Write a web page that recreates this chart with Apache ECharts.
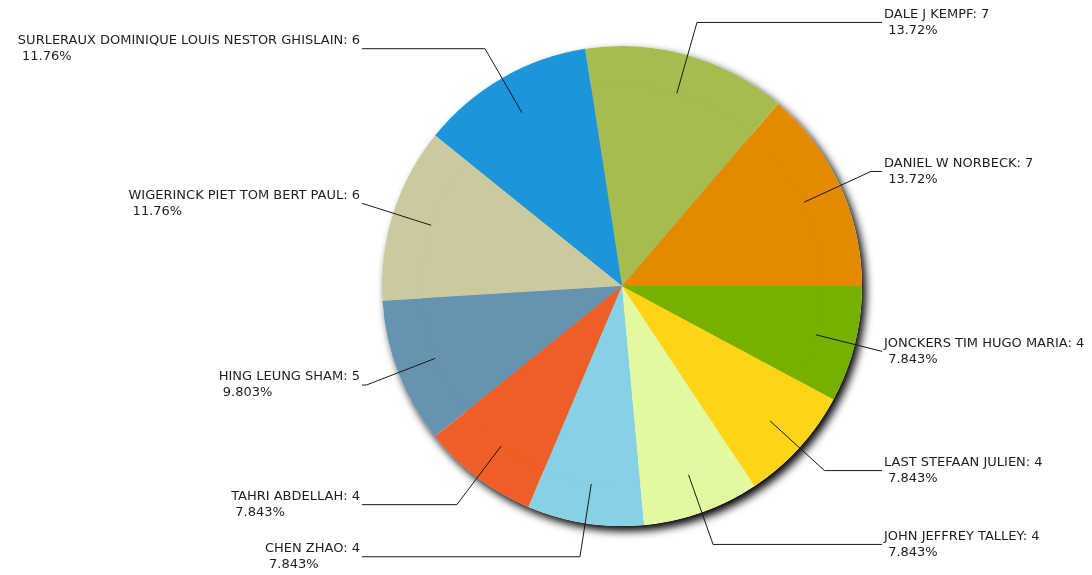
<!DOCTYPE html>
<html>
<head>
<meta charset="utf-8">
<title>Inventors</title>
<script src="https://cdn.jsdelivr.net/npm/echarts@6/dist/echarts.min.js"></script>
<style>
  html, body { margin: 0; padding: 0; background: #fff; }
  #chart { width: 1092px; height: 575px; }
</style>
</head>
<body>
<div id="chart"></div>
<script>
// Names, counts and slice colours, listed counter-clockwise from 3 o'clock
const names = [
  'DANIEL W NORBECK',
  'DALE J KEMPF',
  'SURLERAUX DOMINIQUE LOUIS NESTOR GHISLAIN',
  'WIGERINCK PIET TOM BERT PAUL',
  'HING LEUNG SHAM',
  'TAHRI ABDELLAH',
  'CHEN ZHAO',
  'JOHN JEFFREY TALLEY',
  'LAST STEFAAN JULIEN',
  'JONCKERS TIM HUGO MARIA'
];
const counts = [7, 7, 6, 6, 5, 4, 4, 4, 4, 4];
const colors = [
  '#e38a00', '#a6bc4f', '#1d95da', '#cbc99e', '#6593b0',
  '#ef5e26', '#87d0e5', '#e3f9a0', '#fed414', '#76b100'
];

const CX = 622, CY = 286;   // pie centre
const R = 240;              // pie radius
const LINE_START_R = 200;   // leader lines begin inside the slices
const LINE_REACH = 260;     // horizontal reach of leader lines from the centre

const total = counts.reduce((a, b) => a + b, 0);

// percentage shown with four significant digits, cut rather than rounded
function pctText(v) {
  const p = v / total * 100;
  const mag = Math.floor(Math.log10(p));
  const dec = Math.max(0, 3 - mag);
  const f = Math.pow(10, dec);
  return (Math.floor(p * f + 1e-9) / f).toFixed(dec) + '%';
}

const data = names.map((n, i) => ({
  name: n,
  value: counts[i],
  itemStyle: { color: colors[i] }
}));

const chart = echarts.init(document.getElementById('chart'), null, { renderer: 'canvas' });

chart.setOption({
  animation: false,
  backgroundColor: '#ffffff',
  series: [
    {
      // drop shadow under the whole disc
      type: 'pie',
      silent: true,
      z: 1,
      center: [CX, CY],
      radius: R,
      label: { show: false },
      labelLine: { show: false },
      itemStyle: {
        color: '#ffffff',
        shadowColor: 'rgba(0,0,0,1)',
        shadowBlur: 9,
        shadowOffsetX: 4,
        shadowOffsetY: 5
      },
      emphasis: { disabled: true },
      data: [{ name: '', value: 1 }]
    },
    {
      type: 'pie',
      silent: true,
      z: 2,
      center: [CX, CY],
      radius: R,
      startAngle: 0,
      clockwise: false,
      label: { show: false },
      labelLine: { show: false },
      itemStyle: { borderWidth: 0 },
      emphasis: { disabled: true },
      data: data
    },
    {
      // transparent copy that carries the labels and leader lines;
      // its layout box is widened so long names are never cut short
      type: 'pie',
      silent: true,
      z: 5,
      left: 0,
      top: 0,
      width: 1400,
      height: 575,
      center: [CX, CY],
      radius: LINE_START_R,
      startAngle: 0,
      clockwise: false,
      itemStyle: { color: 'rgba(0,0,0,0)', borderWidth: 0 },
      emphasis: { disabled: true },
      label: {
        show: true,
        position: 'outside',
        overflow: 'none',
        bleedMargin: 0,
        formatter: p => '{a|' + p.name + ': ' + p.value + '}\n{a| ' + pctText(p.value) + '}',
        rich: {
          a: {
            fontFamily: 'DejaVu Sans',
            fontSize: 13,
            color: '#1e1e1e',
            lineHeight: 16,
            align: 'left'
          }
        }
      },
      labelLine: {
        show: true,
        length: 74,
        length2: 0,
        smooth: false,
        lineStyle: { color: '#1a1a1a', width: 1 }
      },
      labelLayout: function (p) {
        const pts = p.labelLinePoints;
        if (!pts) return {};
        const p0 = pts[0], p1 = pts[1];
        const right = p1[0] >= CX;
        const edgeX = CX + (right ? 1 : -1) * LINE_REACH;
        let e = [p1[0], p1[1]];
        if (Math.abs(p1[0] - CX) > LINE_REACH) {
          const t = (edgeX - p0[0]) / (p1[0] - p0[0]);
          e = [edgeX, p0[1] + t * (p1[1] - p0[1])];
        }
        return {
          x: edgeX + (right ? 2 : -2),
          y: e[1],
          align: right ? 'left' : 'right',
          verticalAlign: 'middle',
          labelLinePoints: [[p0[0], p0[1]], e, [edgeX, e[1]]]
        };
      },
      data: data
    }
  ]
});
</script>
</body>
</html>
